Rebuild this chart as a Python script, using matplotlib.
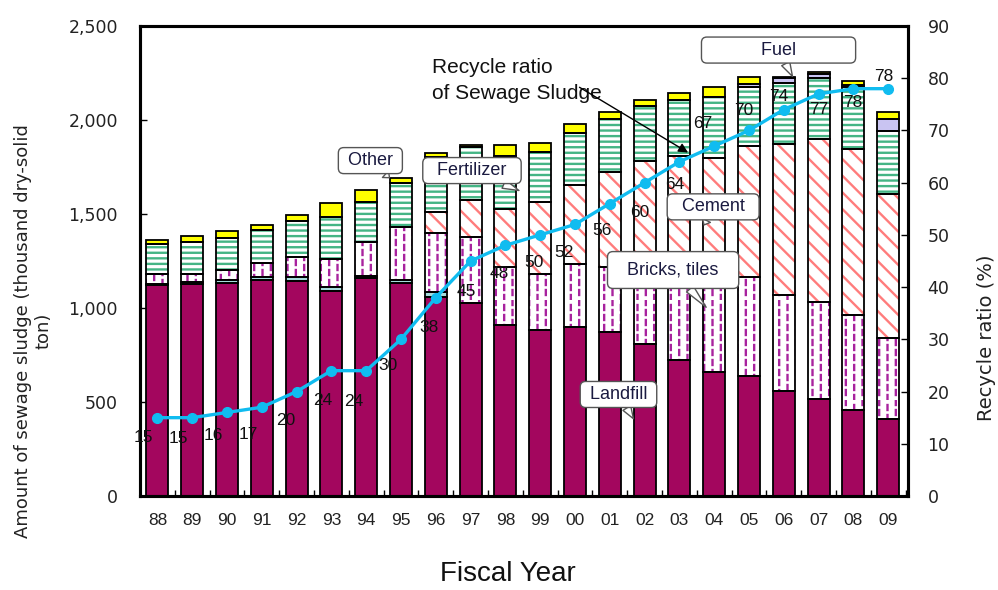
import numpy as np
import matplotlib
matplotlib.use("Agg")
import matplotlib.pyplot as plt
import matplotlib.hatch as mhatch
from matplotlib.path import Path

# ---------------- data ----------------
years = ['88', '89', '90', '91', '92', '93', '94', '95', '96', '97', '98',
         '99', '00', '01', '02', '03', '04', '05', '06', '07', '08', '09']
landfill = [1120, 1127, 1131, 1148, 1145, 1091, 1157, 1131, 1060, 1024, 908,
            885, 899, 872, 810, 725, 659, 636, 557, 517, 458, 410]
construction = [8, 12, 20, 15, 18, 20, 15, 20, 25, 0, 0,
                0, 0, 0, 0, 0, 0, 0, 0, 0, 0, 0]
bricks = [55, 40, 50, 78, 107, 147, 180, 280, 312, 356, 308,
          296, 333, 348, 400, 460, 511, 530, 511, 516, 504, 432]
cement = [0, 0, 0, 0, 0, 0, 0, 0, 115, 192, 312,
          381, 424, 504, 574, 622, 629, 698, 802, 867, 885, 766]
fertilizer = [155, 171, 169, 173, 191, 224, 214, 232, 291, 283, 279,
              267, 276, 279, 290, 298, 323, 309, 329, 321, 326, 333]
fuel = [0, 0, 0, 0, 0, 0, 0, 0, 0, 0, 0,
        0, 0, 0, 0, 0, 0, 17, 26, 23, 12, 66]
other = [22, 35, 39, 30, 35, 77, 61, 27, 21, 11, 59,
         50, 45, 38, 32, 37, 51, 41, 6, 12, 23, 37]
ratio = [15, 15, 16, 17, 20, 24, 24, 30, 38, 45, 48,
         50, 52, 56, 60, 64, 67, 70, 74, 77, 78, 78]
# label offsets (pixels) of the ratio labels relative to their points
label_dx = [-14, -14, -14, -13, -11, -9, -12, -13, -7, -4, -6,
            -6, -11, -8, -5, -5, -11, -5, -5, 0, -1, -4]
label_dy = [-20, -21, -23, -27, -29, -30, -31, -26, -30, -30, -28,
            -28, -28, -27, -30, -23, 23, 20, 13, -16, -14, 12]


# ------------- dashed vertical hatch for bricks -------------
class DashedVerticalHatch(mhatch.HatchPatternBase):
    def __init__(self, hatch, density):
        self.num_cols = int(hatch.count('|') * density)
        self.num_dash = 10
        self.num_vertices = self.num_cols * self.num_dash * 2

    def set_vertices_and_codes(self, vertices, codes):
        if self.num_cols == 0:
            return
        period = 1.0 / self.num_dash
        k = 0
        for j in range(self.num_cols):
            cx = (j + 0.5) / self.num_cols
            shift = 0.5 * period * (j % 2)
            for d in range(self.num_dash):
                y0 = d * period + shift
                y1 = y0 + 0.5 * period
                vertices[k] = (cx, y0)
                vertices[k + 1] = (cx, y1)
                codes[k] = Path.MOVETO
                codes[k + 1] = Path.LINETO
                k += 2


mhatch._hatch_types[mhatch._hatch_types.index(mhatch.VerticalHatch)] = DashedVerticalHatch

plt.rcParams['hatch.linewidth'] = 1.7
plt.rcParams['font.family'] = ['Liberation Sans', 'DejaVu Sans']

fig = plt.figure(figsize=(9.98, 5.9), dpi=100)
ax = fig.add_axes([140 / 998, 1 - 496 / 590, 768 / 998, 470 / 590])
ax2 = ax.twinx()

x = np.arange(len(years))
w = 0.63

segments = [
    (landfill, '#A3065E', None, None),
    (construction, '#A6DCDC', None, None),
    (bricks, 'white', '||', '#A8229E'),
    (cement, 'white', '\\\\', '#FF7C7C'),
    (fertilizer, 'white', '---', '#45B585'),
    (fuel, '#C9C4F2', None, None),
    (other, '#FFFF00', None, None),
]
bottom = np.zeros(len(years))
for vals, fc, hatch, hc in segments:
    v = np.array(vals, dtype=float)
    if hatch:
        ax.bar(x, v, w, bottom=bottom, color=fc, hatch=hatch,
               edgecolor=hc, linewidth=0, zorder=2)
    else:
        ax.bar(x, v, w, bottom=bottom, color=fc, linewidth=0, zorder=2)
    ax.bar(x, v, w, bottom=bottom, fill=False, edgecolor='black',
           linewidth=1.3, zorder=3)
    bottom += v

ax.set_xlim(-0.4, 21.57)
ax.set_ylim(0, 2500)
ax2.set_ylim(0, 90)

ax.set_yticks(np.arange(0, 2501, 500))
ax.set_yticklabels(['0', '500', '1,000', '1,500', '2,000', '2,500'],
                   family='DejaVu Sans', fontsize=12.5, color='#222222')
ax2.set_yticks(np.arange(0, 91, 10))
ax2.set_yticklabels([str(t) for t in range(0, 91, 10)],
                    family='DejaVu Sans', fontsize=12.5, color='#222222')
ax.set_xticks(x)
ax.set_xticklabels(years, fontsize=12.5, color='#222222')
ax.set_xticks(np.arange(-0.5, 22, 1.0), minor=True)
ax.tick_params(axis='x', which='major', length=0, pad=12)
ax.tick_params(axis='x', which='minor', direction='in', length=4, width=1)
ax.tick_params(axis='y', direction='in', length=5, width=1, pad=16)
ax2.tick_params(axis='y', direction='in', length=5, width=1, pad=14)

for a in (ax, ax2):
    for s in a.spines.values():
        s.set_linewidth(2.2)
        s.set_color('black')

# recycle ratio line
ax2.plot(x, ratio, color='#10BCF0', lw=2.4, marker='o', markersize=7,
         zorder=5)
for xi, r, dx, dy in zip(x, ratio, label_dx, label_dy):
    ax2.annotate(str(r), (xi, r), xytext=(dx, dy), textcoords='offset pixels',
                 ha='center', va='center', fontsize=12.5, color='#111111',
                 zorder=6)

# callouts
box = dict(boxstyle='round,pad=0.25,rounding_size=0.3', fc='white',
           ec='#555555', lw=1.0)
wedge = dict(arrowstyle='wedge,tail_width=0.5,shrink_factor=0.5',
             fc='white', ec='#555555', lw=1.0, shrinkA=0, shrinkB=0)
callouts = [
    (' Other ', (6.67, 1693), (6.12, 1784)),
    ('  Fertilizer  ', (10.39, 1625), (9.04, 1731)),
    ('  Cement  ', (15.71, 1442), (15.97, 1538)),
    ('  Bricks, tiles  ', (15.77, 1004), (14.82, 1202)),
    (' Landfill ', (13.68, 411), (13.25, 540)),
    ('           Fuel           ', (18.25, 2232), (17.85, 2372)),
]
for txt, xy, xyt in callouts:
    bb = dict(box)
    if 'Bricks' in txt:
        bb['boxstyle'] = 'round,pad=0.55,rounding_size=0.3'
    ax2.annotate(txt, xy=xy, xycoords=ax.transData, xytext=xyt,
                 textcoords=ax.transData, ha='center', va='center',
                 fontsize=13, color='#1a1a40', bbox=bb, arrowprops=wedge,
                 zorder=7)

ax2.text(7.9, 2212, 'Recycle ratio\nof Sewage Sludge', transform=ax.transData,
         ha='left', va='center', fontsize=15, color='#111111',
         linespacing=1.45, zorder=7)
ax2.annotate('', xy=(15.25, 1827), xycoords=ax.transData,
             xytext=(12.13, 2174), textcoords=ax.transData,
             arrowprops=dict(arrowstyle='-|>', color='black', lw=1.0,
                             mutation_scale=14, shrinkA=0, shrinkB=0),
             zorder=8)

fig.text(33 / 998, 1 - 331 / 590,
         'Amount of sewage sludge (thousand dry-solid\nton)',
         rotation=90, ha='center', va='center', multialignment='center',
         family='DejaVu Sans', fontsize=13, color='#222222')
fig.text(986 / 998, 1 - 338 / 590, 'Recycle ratio (%)', rotation=90,
         ha='center', va='center', family='DejaVu Sans', fontsize=14,
         color='#222222')
fig.text(508 / 998, 1 - 581 / 590, 'Fiscal Year', ha='center', va='baseline',
         fontsize=20, color='#111111')

fig.savefig('out.png', dpi=100)
